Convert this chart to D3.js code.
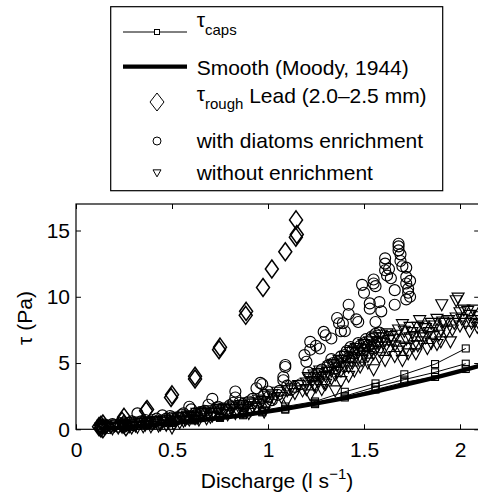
<!DOCTYPE html>
<html>
<head>
<meta charset="utf-8">
<script src="https://cdn.jsdelivr.net/npm/d3@7"></script>
<style>
  body { margin: 0; background: #fff; }
  svg { font-family: "Liberation Sans", Arial, sans-serif; }
</style>
</head>
<body>
<svg id="chart" width="478" height="499"></svg>
<script>
// discharge values where the caps / smooth curves were computed
const capsQ = [0.13, 0.25, 0.37, 0.5, 0.62, 0.75, 0.87, 0.97, 1.09, 1.245, 1.4, 1.56, 1.71, 1.87, 2.03];
const capsA = [0.12, 0.26, 0.42, 0.58, 0.78, 0.98, 1.2, 1.42, 1.72, 2.1, 2.83, 3.46, 4.15, 4.92, 6.1];
const capsB = [0.1, 0.22, 0.37, 0.52, 0.72, 0.92, 1.12, 1.34, 1.55, 2.0, 2.5, 3.2, 3.75, 4.3, 4.95];
const capsC = [0.08, 0.19, 0.33, 0.48, 0.67, 0.86, 1.06, 1.28, 1.48, 1.9, 2.4, 3.0, 3.55, 3.95, 4.55];

const smoothQ = [0.13, 0.25, 0.37, 0.5, 0.62, 0.75, 0.87, 0.97, 1.09, 1.245, 1.4, 1.56, 1.71, 1.87, 2.03, 2.1];
const smoothTau = [0.05, 0.15, 0.28, 0.45, 0.63, 0.84, 1.06, 1.27, 1.55, 1.93, 2.35, 2.85, 3.35, 3.9, 4.5, 4.78];

const rough = [
  [0.12, 0.2], [0.13, 0.3], [0.14, 0.4], [0.13, 0.1], [0.14, 0.05],
  [0.24, 0.6], [0.25, 0.9], [0.25, 0.4], [0.26, 0.2],
  [0.365, 1.4], [0.37, 1.5], [0.495, 2.4], [0.5, 2.6],
  [0.62, 3.8], [0.62, 4.0], [0.745, 6.0], [0.75, 6.2],
  [0.884, 8.6], [0.886, 8.9], [0.974, 10.7], [1.02, 12.1],
  [1.09, 13.4], [1.145, 14.5], [1.15, 14.7], [1.146, 15.8]
];

const withDiatoms = [
  [0.13, 0.2], [0.15, 0.35], [0.17, 0.1], [0.2, 0.3], [0.23, 0.45], [0.25, 0.2],
  [0.28, 0.5], [0.3, 0.3], [0.32, 1.2], [0.34, 0.6], [0.37, 0.5], [0.4, 0.7],
  [0.43, 0.5], [0.45, 1.05], [0.47, 0.8], [0.5, 0.9], [0.52, 0.7], [0.55, 1.1],
  [0.57, 0.9], [0.59, 1.7], [0.6, 1.5], [0.62, 1.2], [0.65, 1.3], [0.69, 1.85],
  [0.71, 2.3], [0.73, 1.6], [0.76, 1.5], [0.8, 1.8], [0.83, 2.85], [0.83, 2.4],
  [0.85, 2.0], [0.9, 2.1], [0.94, 3.1], [0.96, 3.5], [0.97, 3.4], [1.0, 2.85],
  [1.0, 2.4], [1.05, 2.6],
  [0.14, 0.1], [0.16, 0.25], [0.19, 0.4], [0.22, 0.2], [0.26, 0.35], [0.29, 0.6],
  [0.33, 0.4], [0.36, 0.7], [0.39, 0.5], [0.42, 0.8], [0.46, 0.6], [0.49, 1.0],
  [0.53, 0.9], [0.56, 1.2], [0.58, 0.8], [0.63, 1.1], [0.67, 1.4], [0.7, 1.2],
  [0.74, 1.7], [0.78, 1.5], [0.82, 2.0], [0.87, 1.9], [0.92, 2.3], [0.95, 2.0],
  [0.98, 2.6], [1.02, 2.2], [1.06, 2.9], [1.14, 3.2], [1.17, 3.4],
  [1.08, 3.7], [1.08, 3.95], [1.09, 4.85], [1.09, 4.7], [1.1, 3.3], [1.12, 3.0],
  [1.19, 5.6], [1.2, 5.1], [1.21, 4.3], [1.22, 6.6], [1.22, 6.0], [1.24, 4.0],
  [1.25, 6.3], [1.27, 6.1], [1.29, 7.35], [1.3, 7.1], [1.31, 4.8], [1.33, 6.85],
  [1.34, 5.0],
  [1.26, 4.2], [1.28, 4.5], [1.33, 5.3], [1.35, 4.6], [1.38, 5.5], [1.41, 5.9],
  [1.43, 6.2], [1.45, 5.7], [1.47, 6.5], [1.49, 6.1], [1.51, 6.8], [1.52, 6.3],
  [1.54, 7.0], [1.55, 6.1], [1.58, 7.3], [1.57, 6.6],
  [1.36, 8.4], [1.36, 5.1], [1.37, 8.0], [1.38, 7.4], [1.39, 8.0], [1.4, 7.4],
  [1.4, 5.6], [1.42, 9.4], [1.42, 8.7], [1.42, 5.4], [1.44, 6.0], [1.46, 8.3],
  [1.47, 8.1], [1.48, 6.3], [1.49, 10.9], [1.5, 10.3], [1.5, 6.5], [1.53, 9.5],
  [1.53, 9.1], [1.54, 6.8], [1.55, 11.3], [1.55, 11.0], [1.56, 10.8], [1.56, 8.1],
  [1.56, 7.2], [1.58, 9.6], [1.59, 8.9], [1.61, 12.9], [1.61, 12.5], [1.61, 12.0],
  [1.62, 11.6], [1.63, 12.1], [1.64, 11.4], [1.66, 10.5], [1.66, 9.4], [1.68, 14.0],
  [1.68, 13.8], [1.68, 13.5], [1.69, 13.2], [1.69, 12.7], [1.7, 12.3], [1.72, 12.2],
  [1.72, 11.5], [1.72, 11.0], [1.73, 10.6], [1.73, 10.3], [1.74, 10.0], [1.72, 9.8],
  [1.74, 11.2]
];

const withoutEnrich = [
  [0.13, 0.1], [0.14, 0.2], [0.15, 0.05], [0.18, 0.15], [0.2, 0.25], [0.22, 0.1],
  [0.25, 0.3], [0.26, 0.5], [0.28, 0.2], [0.3, 0.35], [0.32, 0.15], [0.34, 0.45],
  [0.36, 0.3], [0.38, 0.55], [0.4, 0.4], [0.42, 0.6], [0.44, 0.35], [0.46, 0.7],
  [0.48, 0.5], [0.5, 0.1], [0.5, 0.8], [0.52, 0.6],
  [0.14, 0.3], [0.16, 0.15], [0.19, 0.05], [0.21, 0.35], [0.24, 0.15], [0.27, 0.4],
  [0.29, 0.1], [0.31, 0.25], [0.33, 0.55], [0.35, 0.2], [0.37, 0.45], [0.39, 0.2],
  [0.41, 0.5], [0.43, 0.25], [0.45, 0.55], [0.47, 0.3], [0.49, 0.65], [0.51, 0.4],
  [0.53, 0.85], [0.54, 0.5], [0.56, 0.6], [0.58, 1.0], [0.59, 0.7], [0.61, 0.9],
  [0.64, 0.7], [0.66, 1.1], [0.68, 0.8], [0.69, 1.2], [0.71, 1.0], [0.74, 1.3],
  [0.77, 1.4], [0.79, 1.1], [0.81, 1.5], [0.83, 1.2], [0.85, 1.6], [0.87, 1.3],
  [0.89, 1.7], [0.91, 1.4], [0.93, 1.9], [0.94, 1.6], [0.97, 2.1], [0.99, 1.7],
  [0.55, 0.9], [0.57, 0.7], [0.6, 1.0], [0.62, 0.8], [0.63, 1.2], [0.65, 1.0],
  [0.67, 1.3], [0.7, 0.9], [0.7, 1.4], [0.72, 1.2], [0.75, 1.5], [0.76, 1.1],
  [0.78, 1.6], [0.8, 1.3], [0.82, 1.7], [0.84, 1.4], [0.86, 1.8], [0.88, 1.5],
  [0.9, 2.0], [0.9, 1.2], [0.92, 1.7], [0.95, 2.2], [0.96, 1.9], [0.98, 1.3],
  [1.0, 2.5], [1.0, 2.0],
  [1.02, 2.6], [1.03, 2.3], [1.05, 2.8], [1.07, 2.4], [1.1, 2.9], [1.1, 2.2],
  [1.12, 3.1], [1.14, 2.7], [1.16, 3.3], [1.18, 2.9], [1.2, 3.5], [1.2, 3.0],
  [1.22, 3.8], [1.22, 2.6], [1.24, 4.1], [1.24, 3.3], [1.26, 3.6], [1.27, 4.4],
  [1.28, 3.0], [1.3, 4.0], [1.3, 3.4], [1.32, 4.7],
  [1.21, 3.9], [1.23, 3.6], [1.25, 3.2], [1.26, 4.2], [1.28, 3.9], [1.29, 3.5],
  [1.31, 4.3], [1.33, 4.4], [1.35, 4.1], [1.36, 4.8], [1.38, 4.4], [1.39, 5.0],
  [1.41, 5.2], [1.42, 4.7], [1.44, 5.4], [1.45, 5.9], [1.47, 5.8], [1.49, 5.2],
  [1.51, 6.0], [1.52, 5.5], [1.54, 6.3], [1.55, 5.7], [1.57, 6.6], [1.58, 5.9],
  [1.6, 6.9], [1.61, 6.2], [1.63, 6.7], [1.64, 7.0], [1.66, 6.3], [1.67, 7.1],
  [1.68, 5.9], [1.71, 7.4], [1.72, 6.1], [1.74, 6.9], [1.74, 7.7], [1.76, 7.0],
  [1.78, 7.7], [1.78, 6.3], [1.81, 7.8], [1.82, 6.9], [1.84, 7.3], [1.85, 6.5],
  [1.87, 7.8], [1.89, 7.1], [1.91, 8.1], [1.93, 7.4], [1.97, 8.0], [2.01, 8.3],
  [2.04, 8.9], [2.06, 8.0], [2.1, 7.9],
  [1.33, 3.8], [1.34, 4.9], [1.35, 2.9], [1.36, 4.3], [1.37, 5.2], [1.38, 3.6],
  [1.4, 4.7], [1.4, 5.5], [1.42, 4.0], [1.43, 5.8], [1.44, 5.0], [1.45, 4.4],
  [1.46, 6.1], [1.47, 5.3], [1.48, 4.7], [1.5, 6.4], [1.5, 5.6], [1.52, 5.0],
  [1.53, 6.6], [1.54, 5.9], [1.55, 4.5], [1.56, 6.9], [1.57, 6.2], [1.58, 5.4],
  [1.59, 7.1],
  [1.6, 6.5], [1.61, 5.2], [1.62, 7.2], [1.63, 6.0], [1.65, 6.8], [1.66, 5.5],
  [1.68, 7.5], [1.69, 6.2], [1.7, 5.2], [1.7, 7.9], [1.72, 6.8], [1.73, 5.7],
  [1.75, 7.3], [1.76, 6.3], [1.77, 5.7], [1.79, 8.2], [1.8, 7.1], [1.8, 6.6],
  [1.82, 7.6], [1.83, 6.1], [1.85, 8.0], [1.86, 7.0], [1.88, 8.3], [1.88, 6.4],
  [1.9, 7.5], [1.9, 6.6],
  [1.905, 9.4], [1.92, 8.0], [1.94, 8.2], [1.95, 6.6], [1.96, 7.5], [1.98, 9.7],
  [1.98, 8.4], [2.0, 8.8], [2.0, 7.8], [2.02, 9.0], [2.03, 8.0], [2.05, 8.6],
  [2.05, 7.4], [2.07, 9.0], [2.08, 8.2], [2.09, 7.7], [2.1, 8.5], [1.99, 9.9]
];

const xTicks = [0, 0.5, 1, 1.5, 2];
const yTicks = [0, 5, 10, 15];

const svg = d3.select("#chart");
const plotLeft = 76, plotRight = 479.2, plotTop = 204, plotBottom = 429.3;

const x = d3.scaleLinear().domain([0, 2.1]).range([plotLeft, plotRight]);
const y = d3.scaleLinear().domain([0, 17]).range([plotBottom, plotTop]);

// axes, ticks pointing inward like matlab
svg.append("g")
  .attr("transform", `translate(0, ${plotBottom})`)
  .call(d3.axisBottom(x).tickValues(xTicks).tickFormat(d3.format("")).tickSizeInner(-5).tickSizeOuter(0).tickPadding(12.5))
  .call((g) => g.select(".domain").remove());
svg.append("g")
  .attr("transform", `translate(0, ${plotTop})`)
  .call(d3.axisTop(x).tickValues(xTicks).tickFormat("").tickSizeInner(-5).tickSizeOuter(0))
  .call((g) => g.select(".domain").remove());
svg.append("g")
  .attr("transform", `translate(${plotLeft}, 0)`)
  .call(d3.axisLeft(y).tickValues(yTicks).tickSizeInner(-5).tickSizeOuter(0).tickPadding(6))
  .call((g) => g.select(".domain").remove());
svg.append("g")
  .attr("transform", `translate(${plotRight}, 0)`)
  .call(d3.axisRight(y).tickValues(yTicks).tickFormat("").tickSizeInner(-5).tickSizeOuter(0))
  .call((g) => g.select(".domain").remove());

svg.selectAll(".tick text").attr("font-size", 21).attr("fill", "#000")
  .attr("font-family", "Liberation Sans, Arial, sans-serif");
svg.selectAll(".tick line").attr("stroke", "#000");

svg.append("rect")
  .attr("x", plotLeft).attr("y", plotTop)
  .attr("width", plotRight - plotLeft).attr("height", plotBottom - plotTop)
  .attr("fill", "none").attr("stroke", "#000").attr("stroke-width", 1.2);

// axis labels
const xl = svg.append("text")
  .attr("x", 277).attr("y", 488)
  .attr("text-anchor", "middle").attr("font-size", 21);
xl.append("tspan").text("Discharge (l s");
xl.append("tspan").attr("font-size", 15).attr("dy", -9).text("\u22121");
xl.append("tspan").attr("dy", 9).text(")");

svg.append("text")
  .attr("transform", "translate(32, 318) rotate(-90)")
  .attr("text-anchor", "middle").attr("font-size", 21)
  .text("\u03c4 (Pa)");

// markers
const diamond = (cx, cy, w, h) => `M${cx},${cy - h}L${cx + w},${cy}L${cx},${cy + h}L${cx - w},${cy}Z`;
const triDown = (cx, cy, w, h) => `M${cx - w},${cy - h * 0.45}L${cx + w},${cy - h * 0.45}L${cx},${cy + h * 0.55}Z`;

const line = d3.line().x((d) => x(d[0])).y((d) => y(d[1]));
const plot = svg.append("g");

[capsA, capsB, capsC].forEach((vals) => {
  const pts = capsQ.map((q, i) => [q, vals[i]]);
  plot.append("path").attr("d", line(pts))
    .attr("fill", "none").attr("stroke", "#000").attr("stroke-width", 1);
  plot.selectAll(null).data(pts).enter().append("rect")
    .attr("x", (d) => x(d[0]) - 3.5).attr("y", (d) => y(d[1]) - 3.5)
    .attr("width", 7).attr("height", 7)
    .attr("fill", "none").attr("stroke", "#000").attr("stroke-width", 1.1);
});

plot.append("path")
  .attr("d", line(smoothQ.map((q, i) => [q, smoothTau[i]])))
  .attr("fill", "none").attr("stroke", "#000").attr("stroke-width", 4.3);

plot.selectAll(null).data(rough).enter().append("path")
  .attr("d", (d) => diamond(x(d[0]), y(d[1]), 6.5, 9))
  .attr("fill", "none").attr("stroke", "#000").attr("stroke-width", 1.5);

plot.selectAll(null).data(withDiatoms).enter().append("circle")
  .attr("cx", (d) => x(d[0])).attr("cy", (d) => y(d[1])).attr("r", 5.5)
  .attr("fill", "none").attr("stroke", "#000").attr("stroke-width", 1.15);

plot.selectAll(null).data(withoutEnrich).enter().append("path")
  .attr("d", (d) => triDown(x(d[0]), y(d[1]), 6, 11))
  .attr("fill", "none").attr("stroke", "#000").attr("stroke-width", 1.15);

// legend
const lg = svg.append("g");
lg.append("rect").attr("x", 110.7).attr("y", 6.7).attr("width", 332).attr("height", 184)
  .attr("fill", "#fff").attr("stroke", "#000").attr("stroke-width", 1.2);

lg.append("line").attr("x1", 123).attr("x2", 187).attr("y1", 32).attr("y2", 32)
  .attr("stroke", "#000").attr("stroke-width", 1);
lg.append("rect").attr("x", 154.5).attr("y", 29.5).attr("width", 5).attr("height", 5)
  .attr("fill", "#fff").attr("stroke", "#000").attr("stroke-width", 1);
const t1 = lg.append("text").attr("x", 196.7).attr("y", 27).attr("font-size", 21);
t1.append("tspan").text("\u03c4");
t1.append("tspan").attr("font-size", 15).attr("dy", 8).text("caps");

lg.append("line").attr("x1", 123).attr("x2", 187).attr("y1", 66.7).attr("y2", 66.7)
  .attr("stroke", "#000").attr("stroke-width", 4.3);
lg.append("text").attr("x", 196.7).attr("y", 75).attr("font-size", 21)
  .text("Smooth (Moody, 1944)");

lg.append("path").attr("d", diamond(157, 102, 7, 9))
  .attr("fill", "none").attr("stroke", "#000").attr("stroke-width", 1);
const t3 = lg.append("text").attr("x", 196.7).attr("y", 101).attr("font-size", 21);
t3.append("tspan").text("\u03c4");
t3.append("tspan").attr("font-size", 15).attr("dy", 8).text("rough");
t3.append("tspan").attr("dy", -6).text(" Lead (2.0\u20132.5 mm)");

lg.append("circle").attr("cx", 157).attr("cy", 141).attr("r", 4)
  .attr("fill", "none").attr("stroke", "#000").attr("stroke-width", 1);
lg.append("text").attr("x", 196.7).attr("y", 148).attr("font-size", 21)
  .text("with diatoms enrichment");

lg.append("path").attr("d", triDown(157, 173, 4, 7))
  .attr("fill", "none").attr("stroke", "#000").attr("stroke-width", 1);
lg.append("text").attr("x", 196.7).attr("y", 180).attr("font-size", 21)
  .text("without enrichment");
</script>
</body>
</html>
